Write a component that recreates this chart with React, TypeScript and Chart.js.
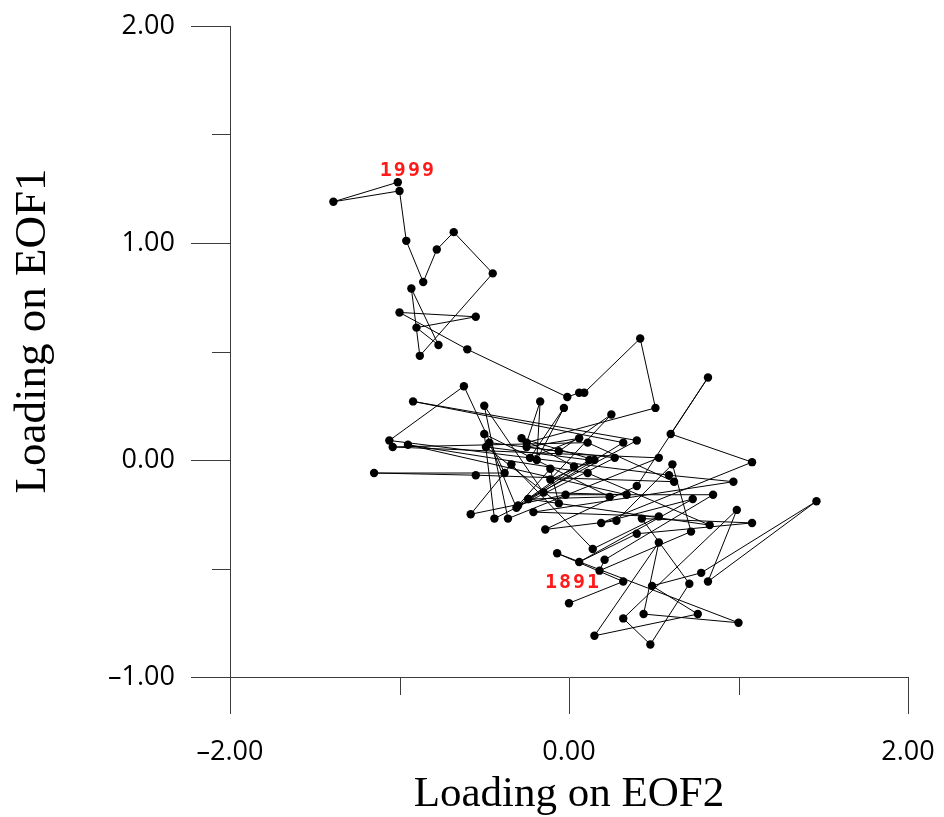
import React, { useEffect, useRef } from 'react';
import { Chart, registerables } from 'chart.js';
Chart.register(...registerables);

// Trajectory 1891 -> 1999 (loading on EOF2 = x, loading on EOF1 = y)
const eof2 = [
  0.00, 0.32, -0.07, 1.00, 0.44, 0.53, 0.15, 0.76, 0.49, 0.78,
  1.46, 0.82, 0.99, 0.32, 0.48, 0.71, 0.43, 1.08, 0.40, 0.06,
  0.73, 0.19, 1.08, 0.60, 0.82, 0.40, -0.14, 0.28, 0.61, 0.72,
  0.18, 0.21, 0.85, -0.02, -0.58, -0.34, 0.14, 0.53, -0.21, 0.97,
  0.59, -1.06, -0.62, -0.38, -1.15, -0.55, 0.62, 0.11, -1.04, 0.53,
  -0.36, -0.50, -0.15, 0.34, -0.95, 0.11, 0.83, -0.24, 0.40, -0.92,
  0.32, -0.31, -0.47, 0.27, -0.44, -0.50, 0.24, -0.24, 0.12, -0.49,
  -0.06, -0.11, -0.30, 0.03, -0.28, 0.15, -0.11, 0.25, -0.06, -0.25,
  0.06, -0.23, -0.03, -0.19, -0.17, -0.25, 0.51, 0.42, 0.09, 0.06,
  -0.01, -0.60, -1.00, -0.55, -0.90, -0.77, -0.93, -0.88, -0.45, -0.68,
  -0.78, -0.86, -0.96, -1.00, -1.39, -1.01,
];
const eof1 = [
  -0.66, -0.56, -0.43, -0.75, -0.71, -0.38, -0.81, -0.71, -0.58, -0.52,
  -0.19, -0.56, -0.23, -0.73, -0.85, -0.57, -0.27, -0.29, -0.34, -0.47,
  -0.18, -0.29, -0.01, 0.12, 0.38, -0.12, -0.32, -0.28, -0.02, -0.33,
  -0.51, -0.46, -0.16, -0.16, -0.25, -0.02, -0.41, -0.26, -0.24, -0.10,
  -0.07, 0.09, 0.34, -0.06, -0.06, -0.07, -0.10, 0.08, 0.06, 0.01,
  -0.27, 0.25, -0.15, -0.16, 0.07, -0.06, -0.30, -0.18, 0.09, 0.27,
  0.08, -0.22, 0.08, 0.01, -0.27, 0.12, -0.17, -0.18, 0.00, 0.06,
  -0.20, -0.04, -0.21, -0.03, 0.10, 0.00, -0.09, 0.21, 0.04, 0.06,
  0.10, 0.01, 0.24, 0.00, 0.27, 0.08, 0.24, 0.56, 0.31, 0.31,
  0.29, 0.51, 0.68, 0.66, 0.61, 0.53, 0.79, 0.48, 0.86, 1.05,
  0.97, 0.82, 1.01, 1.24, 1.19, 1.28,
];
const xMajor = [-2, 0, 2];
const yMajor = [-1, 0, 1, 2];
const xMinor = [-1, 1];
const yMinor = [-0.5, 0.5, 1.5];
const startYear = '1891';
const endYear = '1999';
const xTitle = 'Loading on EOF2';
const yTitle = 'Loading on EOF1';

const AXIS = '#3c3c3c';
const TICK_FONT = '"Open Sans", sans-serif';
const fmt = (v: any) => {
  const n = Number(v);
  const s = Math.abs(n).toFixed(2);
  return n < 0 ? '\u2013' + s : s;
};

const decorPlugin = {
  id: 'decor',
  afterDraw(chart: any) {
    const ctx = chart.ctx;
    const xs = chart.scales.x;
    const ys = chart.scales.y;
    const { left, bottom } = chart.chartArea;
    ctx.save();
    // minor ticks
    ctx.strokeStyle = AXIS;
    ctx.lineWidth = 1;
    ctx.beginPath();
    xMinor.forEach((v) => {
      const px = Math.round(xs.getPixelForValue(v)) + 0.5;
      ctx.moveTo(px, bottom);
      ctx.lineTo(px, bottom + 18);
    });
    yMinor.forEach((v) => {
      const py = Math.round(ys.getPixelForValue(v)) + 0.5;
      ctx.moveTo(left, py);
      ctx.lineTo(left - 18, py);
    });
    ctx.stroke();

    // axis titles
    ctx.fillStyle = '#000';
    ctx.textAlign = 'center';
    ctx.textBaseline = 'alphabetic';
    ctx.font = '43px "Liberation Serif", "Times New Roman", serif';
    ctx.fillText(xTitle, (chart.chartArea.left + chart.chartArea.right) / 2, 806);
    ctx.save();
    ctx.font = '45px "Liberation Serif", "Times New Roman", serif';
    ctx.translate(45, 331);
    ctx.rotate(-Math.PI / 2);
    ctx.fillText(yTitle, 0, 0);
    ctx.restore();

    // year labels
    const n = eof2.length;
    const p0x = xs.getPixelForValue(eof2[0]);
    const p0y = ys.getPixelForValue(eof1[0]);
    const p1x = xs.getPixelForValue(eof2[n - 1]);
    const p1y = ys.getPixelForValue(eof1[n - 1]);
    ctx.fillStyle = '#ff1a1a';
    ctx.font = 'bold 20px "DejaVu Sans Mono", monospace';
    (ctx as any).letterSpacing = '2px';
    ctx.textAlign = 'left';
    ctx.fillText(startYear, p0x - 24, p0y - 15);
    ctx.fillText(endYear, p1x - 18, p1y - 6);
    ctx.restore();
  },
};

export default function App() {
  const ref = useRef<HTMLCanvasElement | null>(null);
  useEffect(() => {
    if (!ref.current) return;
    const pts = eof2.map((x, i) => ({ x, y: eof1[i] }));
    const chart = new Chart(ref.current, {
      type: 'scatter',
      data: {
        datasets: [
          {
            data: pts,
            showLine: true,
            borderColor: '#000',
            borderWidth: 1,
            backgroundColor: '#000',
            pointBackgroundColor: '#000',
            pointBorderColor: '#000',
            pointRadius: 4.2,
            pointBorderWidth: 0,
            tension: 0,
          },
        ],
      },
      options: {
        responsive: false,
        animation: false,
        devicePixelRatio: 1,
        layout: { padding: { top: 26, right: 36, bottom: 0, left: 0 } },
        plugins: { legend: { display: false }, tooltip: { enabled: false } },
        scales: {
          x: {
            type: 'linear',
            min: -2,
            max: 2,
            afterBuildTicks: (s: any) => {
              s.ticks = xMajor.map((v) => ({ value: v }));
            },
            afterFit: (s: any) => {
              s.height = 140;
              s.paddingLeft = 0;
              s.paddingRight = 0;
            },
            grid: { drawOnChartArea: false, drawTicks: true, tickLength: 37, color: AXIS, lineWidth: 1 },
            border: { display: true, color: AXIS, width: 1 },
            ticks: {
              color: '#000',
              padding: 22,
              font: { family: TICK_FONT, size: 27 },
              maxRotation: 0,
              autoSkip: false,
              callback: fmt,
            },
          },
          y: {
            type: 'linear',
            min: -1,
            max: 2,
            afterBuildTicks: (s: any) => {
              s.ticks = yMajor.map((v) => ({ value: v }));
            },
            afterFit: (s: any) => {
              s.width = 230;
              s.paddingTop = 0;
              s.paddingBottom = 0;
            },
            grid: { drawOnChartArea: false, drawTicks: true, tickLength: 39, color: AXIS, lineWidth: 1 },
            border: { display: true, color: AXIS, width: 1 },
            ticks: {
              color: '#000',
              padding: 16,
              font: { family: TICK_FONT, size: 27 },
              autoSkip: false,
              callback: fmt,
            },
          },
        },
      },
      plugins: [decorPlugin],
    } as any);
    return () => chart.destroy();
  }, []);
  return (
    <div style={{ position: 'fixed', left: 0, top: 0, width: 944, height: 817, background: '#fff' }}>
      <canvas ref={ref} width={944} height={817} style={{ width: 944, height: 817, display: 'block' }} />
    </div>
  );
}
